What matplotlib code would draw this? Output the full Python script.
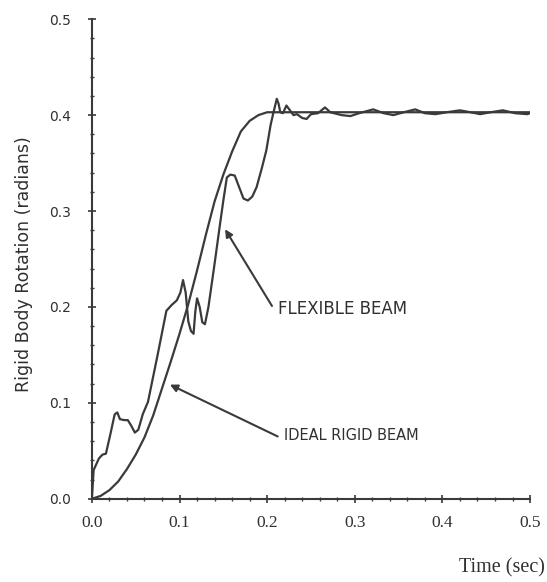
import matplotlib
matplotlib.use('Agg')
import matplotlib.pyplot as plt
from matplotlib.ticker import MultipleLocator

# rigid body rotation of the ideal (rigid) beam
t_ideal = [0, 0.01, 0.02, 0.03, 0.04, 0.05, 0.06, 0.07, 0.08, 0.09, 0.10, 0.11, 0.12,
           0.13, 0.14, 0.15, 0.16, 0.17, 0.18, 0.19, 0.20, 0.21, 0.5]
y_ideal = [0, 0.003, 0.009, 0.018, 0.031, 0.046, 0.064, 0.087, 0.115, 0.143, 0.172, 0.203,
           0.238, 0.275, 0.310, 0.338, 0.362, 0.383, 0.394, 0.400, 0.403, 0.403, 0.403]

# rigid body rotation of the flexible beam
t_flex = [0, 0.002, 0.005, 0.008, 0.012, 0.016, 0.021, 0.026, 0.029, 0.032, 0.037, 0.041,
          0.045, 0.049, 0.053, 0.058, 0.064, 0.075, 0.085, 0.091, 0.097, 0.101, 0.104,
          0.107, 0.110, 0.113, 0.116, 0.118, 0.120, 0.123, 0.126, 0.129, 0.133, 0.140,
          0.146, 0.150, 0.154, 0.158, 0.163, 0.168, 0.173, 0.178, 0.183, 0.188, 0.194,
          0.199, 0.204, 0.207, 0.211, 0.213, 0.215, 0.218, 0.222, 0.226, 0.230, 0.234,
          0.240, 0.245, 0.250, 0.258, 0.266, 0.272, 0.285, 0.295, 0.305, 0.321, 0.333,
          0.344, 0.356, 0.369, 0.380, 0.392, 0.405, 0.420, 0.432, 0.443, 0.455, 0.469,
          0.483, 0.497, 0.5]
y_flex = [0, 0.030, 0.036, 0.042, 0.046, 0.047, 0.067, 0.088, 0.090, 0.083, 0.082, 0.082,
          0.076, 0.069, 0.072, 0.088, 0.101, 0.150, 0.196, 0.202, 0.207, 0.215, 0.228,
          0.215, 0.185, 0.175, 0.172, 0.195, 0.209, 0.200, 0.184, 0.182, 0.200, 0.245,
          0.285, 0.311, 0.335, 0.338, 0.337, 0.325, 0.313, 0.311, 0.315, 0.325, 0.345,
          0.363, 0.390, 0.402, 0.417, 0.412, 0.403, 0.402, 0.410, 0.405, 0.400, 0.401,
          0.397, 0.396, 0.401, 0.402, 0.408, 0.403, 0.400, 0.399, 0.402, 0.406, 0.402,
          0.400, 0.403, 0.406, 0.402, 0.401, 0.403, 0.405, 0.403, 0.401, 0.403, 0.405,
          0.402, 0.401, 0.402]

xticks = [0.0, 0.1, 0.2, 0.3, 0.4, 0.5]
yticks = [0.0, 0.1, 0.2, 0.3, 0.4, 0.5]

ink = '#3a3a3a'
txt = '#303030'

fig = plt.figure(figsize=(5.47, 5.82), dpi=100)
ax = fig.add_axes([0.168, 0.143, 0.801, 0.824])

ax.plot(t_ideal, y_ideal, color=ink, lw=1.6)
ax.plot(t_flex, y_flex, color=ink, lw=1.6)

ax.set_xlim(0, 0.5)
ax.set_ylim(0, 0.5)
for side in ['top', 'right']:
    ax.spines[side].set_visible(False)
for side in ['left', 'bottom']:
    ax.spines[side].set_color(ink)
    ax.spines[side].set_linewidth(1.5)

ax.set_xticks(xticks)
ax.set_yticks(yticks)
ax.set_xticklabels(['%.1f' % v for v in xticks], family='Liberation Serif', fontsize=12.5)
ax.set_yticklabels(['%.1f' % v for v in yticks], family='DejaVu Sans', fontsize=10)
ax.xaxis.set_minor_locator(MultipleLocator(0.02))
ax.yaxis.set_minor_locator(MultipleLocator(0.02))
ax.tick_params(which='major', direction='inout', length=6, width=1.2, color=ink,
               labelcolor=txt)
ax.tick_params(axis='y', which='major', pad=12)
ax.tick_params(axis='x', which='major', pad=9)
ax.tick_params(which='minor', direction='inout', length=3, width=1.0, color=ink)

ax.set_ylabel('Rigid Body Rotation (radians)', fontsize=12.5, color=txt)
ax.yaxis.set_label_coords(-0.135, 0.49)
fig.text(0.997, 0.008, 'Time (sec)', ha='right', va='bottom', family='Liberation Serif',
         fontsize=14.5, color=txt)

# pointer arrows and their captions
arrow = dict(arrowstyle='-|>', color=ink, lw=1.5, shrinkA=0, shrinkB=0, mutation_scale=11)
ax.annotate('', xy=(0.152, 0.281), xytext=(0.2055, 0.201), arrowprops=arrow)
ax.text(0.2126, 0.198, 'FLEXIBLE BEAM', ha='left', va='center', fontsize=12, color=txt)
ax.annotate('', xy=(0.089, 0.119), xytext=(0.212, 0.065), arrowprops=arrow)
ax.text(0.2195, 0.066, 'IDEAL RIGID BEAM', ha='left', va='center', fontsize=10.5, color=txt)

fig.savefig('out.png', dpi=100)
